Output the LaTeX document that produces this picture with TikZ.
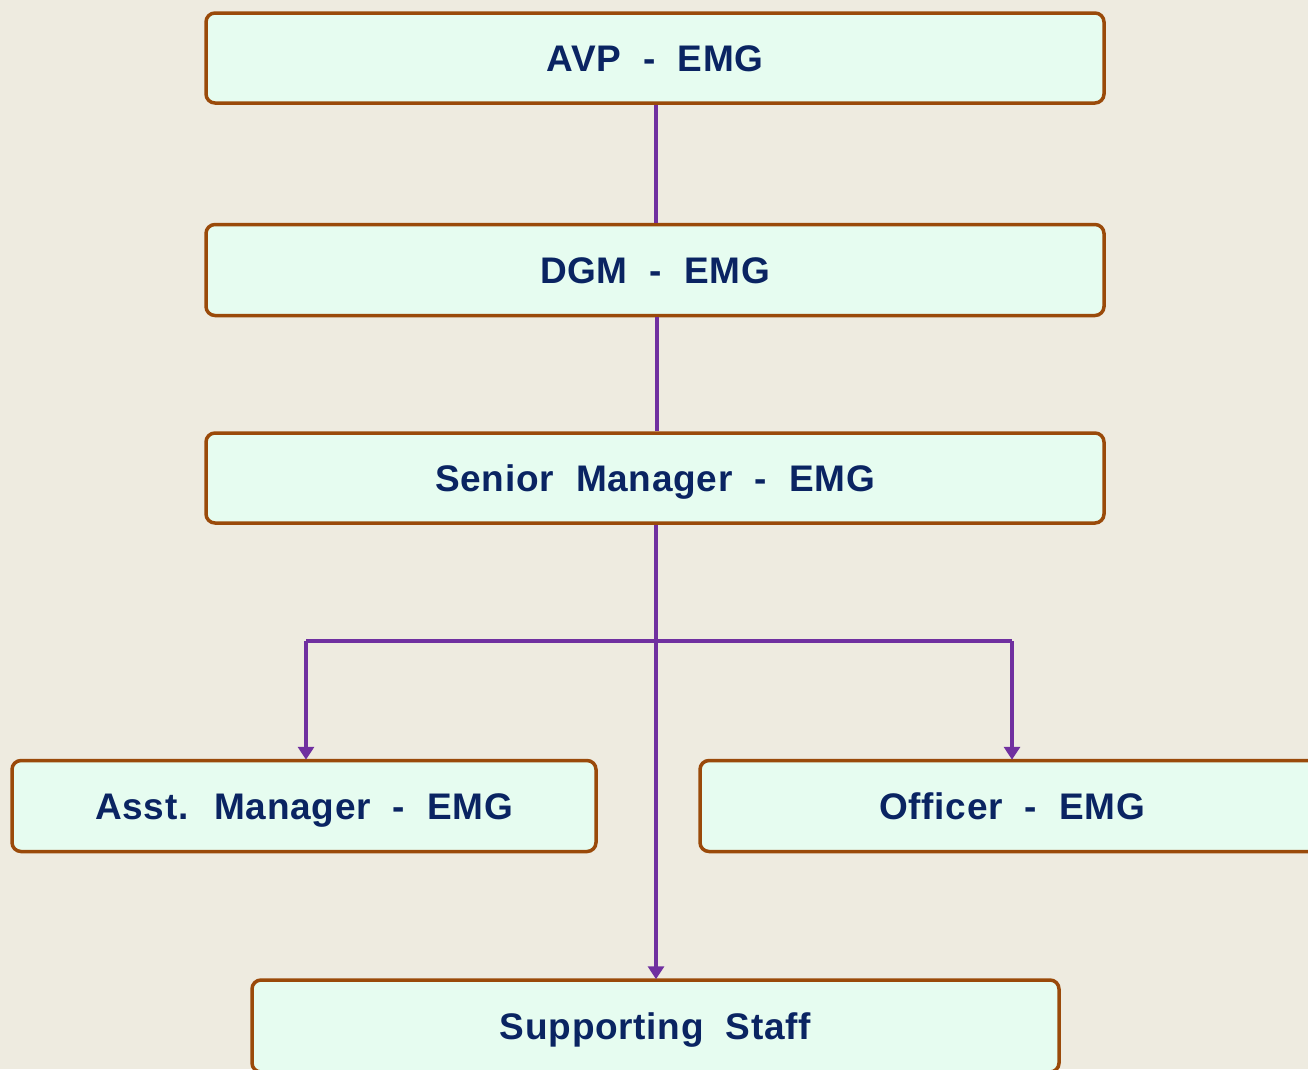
\documentclass[tikz,border=0pt]{standalone}
\usepackage{fontspec}
\setmainfont{Liberation Sans}[WordSpace=2, LetterSpace=2]
\usetikzlibrary{arrows.meta}
\definecolor{bg}{HTML}{EEEBE0}
\definecolor{boxfill}{HTML}{E6FCF0}
\definecolor{boxline}{HTML}{9A4A0A}
\definecolor{conn}{HTML}{7030A0}
\definecolor{txt}{HTML}{0A2462}
\tikzset{
  orgbox/.style={draw=boxline, line width=3.5pt, fill=boxfill, rounded corners=9pt,
    text=txt, font=\fontsize{37}{40}\selectfont\bfseries, inner sep=0pt, anchor=center,
    text height=26.5pt, text depth=0pt},
  link/.style={draw=conn, line width=3.2pt},
  arr/.style={link, -{Triangle[width=16pt,length=13pt]}, shorten >=-1pt}
}
\begin{document}
\begin{tikzpicture}[x=1pt,y=-1pt]
\useasboundingbox (0,0) rectangle (1308,1069);
\clip (0,0) rectangle (1308,1069);
\fill[bg] (0,0) rectangle (1308,1069);
\node[orgbox, minimum width=898pt, minimum height=90pt] (avp) at (655,58) {AVP - EMG};
\node[orgbox, minimum width=898pt, minimum height=91pt] (dgm) at (655,270) {DGM - EMG};
\node[orgbox, minimum width=898pt, minimum height=90pt] (sm) at (655,478) {Senior Manager - EMG};
\node[orgbox, minimum width=584pt, minimum height=91pt] (asst) at (304,806) {Asst. Manager - EMG};
\node[orgbox, minimum width=624pt, minimum height=91pt] (off) at (1012,806) {Officer - EMG};
\node[orgbox, minimum width=807pt, minimum height=92pt] (ss) at (655.5,1026) {Supporting Staff};
\coordinate (bus) at (656,641);
\coordinate (busl) at (306,641);
\coordinate (busr) at (1012,641);
\draw[link] (avp.south -| 656,0) -- (dgm.north -| 656,0);
\draw[link] (dgm.south -| 657,0) -- (sm.north -| 657,0);
\draw[link] (sm.south -| 656,0) -- (bus);
\draw[link] (busl) -- (busr);
\draw[arr] (busl) -- (asst.north -| busl);
\draw[arr] (busr) -- (off.north -| busr);
\draw[arr] (bus) -- (ss.north -| bus);
\end{tikzpicture}
\end{document}
